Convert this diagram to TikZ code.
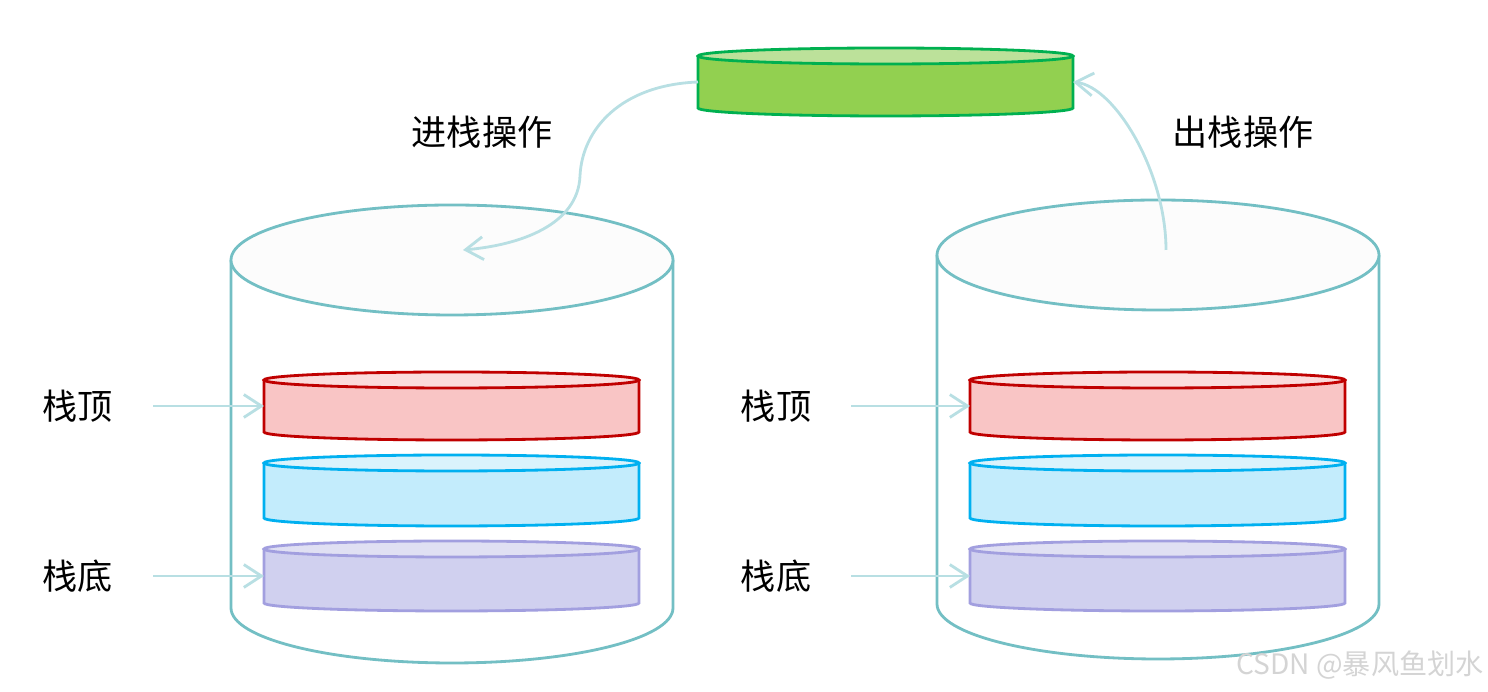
\documentclass[tikz,border=0pt]{standalone}
\usepackage{fontspec}
\setmainfont{Noto Sans CJK SC}
\usepackage{xcolor}
\usepackage{tikz}
\usetikzlibrary{arrows.meta}

\definecolor{tankline}{HTML}{73BFC4}
\definecolor{tanklid}{HTML}{FCFCFC}
\definecolor{pointline}{HTML}{B8DFE3}
\definecolor{redline}{HTML}{C00000}
\definecolor{redbody}{HTML}{F9C5C5}
\definecolor{redlid}{HTML}{FBDCDC}
\definecolor{blueline}{HTML}{00B0F0}
\definecolor{bluebody}{HTML}{C3ECFC}
\definecolor{bluelid}{HTML}{DAF3FC}
\definecolor{purpline}{HTML}{A29FDF}
\definecolor{purpbody}{HTML}{D0D0EF}
\definecolor{purplid}{HTML}{E0E0F3}
\definecolor{greenline}{HTML}{00B050}
\definecolor{greenbody}{HTML}{92D050}
\definecolor{greenlid}{HTML}{BCE19A}
\definecolor{markgray}{HTML}{D4D4D4}

% one disk: centre x, lid y, base y, line, body, lid
\newcommand{\drum}[6]{%
  \fill[#5] ({#1-187.5},#3) -- ({#1-187.5},#2) -- ({#1+187.5},#2) -- ({#1+187.5},#3)
    arc[start angle=0, end angle=-180, x radius=187.5, y radius=8] -- cycle;
  \draw[#4, line width=1.6pt] ({#1-187.5},#2) -- ({#1-187.5},#3)
    arc[start angle=180, end angle=360, x radius=187.5, y radius=8] -- ({#1+187.5},#2);
  \draw[#4, line width=1.6pt, fill=#6] (#1,#2) ellipse[x radius=187.5, y radius=8];
}

\begin{document}
\begin{tikzpicture}[x=0.02cm, y=0.02cm,
    tank/.style={draw=tankline, line width=1.6pt},
    pointer/.style={draw=pointline, line width=1.6pt, -{Straight Barb[length=10pt, width=13pt]}},
    label/.style={font=\fontsize{20}{24}\selectfont, text=black}]
  \useasboundingbox (0,0) rectangle (1488,692);

  % stack containers
  \draw[tank, fill=white] (231,432) -- (231,84)
    arc[start angle=180, end angle=360, x radius=221, y radius=55] -- (673,432);
  \draw[tank, fill=tanklid] (452,432) ellipse[x radius=221, y radius=55];
  \draw[tank, fill=white] (937,437) -- (937,88)
    arc[start angle=180, end angle=360, x radius=221, y radius=55] -- (1379,437);
  \draw[tank, fill=tanklid] (1158,437) ellipse[x radius=221, y radius=55];

  % disks
  \drum{451.5}{312}{260}{redline}{redbody}{redlid}
  \drum{451.5}{229}{174}{blueline}{bluebody}{bluelid}
  \drum{451.5}{143}{89}{purpline}{purpbody}{purplid}
  \drum{1157.5}{312}{260}{redline}{redbody}{redlid}
  \drum{1157.5}{229}{174}{blueline}{bluebody}{bluelid}
  \drum{1157.5}{143}{89}{purpline}{purpbody}{purplid}
  \drum{885.5}{636}{584}{greenline}{greenbody}{greenlid}

  \coordinate (lred) at (264,286);
  \coordinate (lpurp) at (264,116);
  \coordinate (rred) at (970,286);
  \coordinate (rpurp) at (970,116);
  \coordinate (gwest) at (698,610);
  \coordinate (geast) at (1073,610);
  \coordinate (pushin) at (463,442);
  \coordinate (popout) at (1166,442);

  % labels
  \node[label] (ltop) at (78,286) {栈顶};
  \node[label] (lbot) at (78,116) {栈底};
  \node[label] (rtop) at (776,286) {栈顶};
  \node[label] (rbot) at (776,116) {栈底};
  \node[label] (push) at (482,560) {进栈操作};
  \node[label] (pop) at (1243,560) {出栈操作};

  \draw[pointer, shorten <=0.68cm] (ltop.east) -- (lred);
  \draw[pointer, shorten <=0.68cm] (lbot.east) -- (lpurp);
  \draw[pointer, shorten <=0.68cm] (rtop.east) -- (rred);
  \draw[pointer, shorten <=0.68cm] (rbot.east) -- (rpurp);

  \draw[pointer] (gwest) .. controls (620,607) and (582,562) .. (580,516)
    .. controls (578,467) and (520,447) .. (pushin);
  \draw[pointer] (popout) .. controls (1166,520) and (1115,605) .. (geast);

  \node[font=\fontsize{16}{19}\selectfont, text=markgray] (mark) at (1360,27) {CSDN @暴风鱼划水};
\end{tikzpicture}
\end{document}
